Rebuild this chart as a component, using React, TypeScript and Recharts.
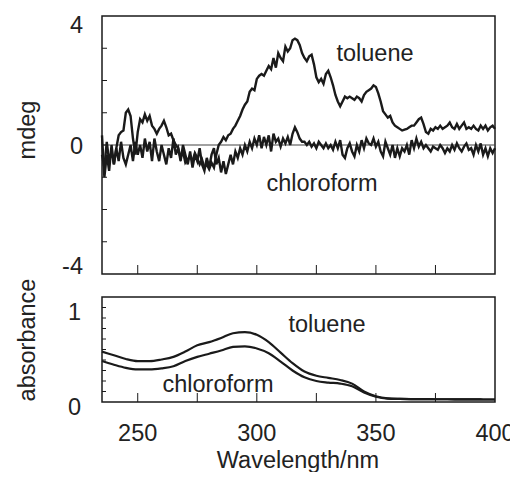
import { LineChart, Line, XAxis, YAxis, ReferenceLine, ReferenceArea } from "recharts";

// CD spectra, sampled every 1 nm from 235 to 400 nm
const CD_START = 235;
const cdToluene = [
  -0.3, -0.7, 0.1, -0.5, -0.2, -0.6, -0.1, 0.3, 0.4, 0.45,
  1.0, 1.1, 0.9, 0.2, -0.3, 0.4, 0.8, 0.7, 0.95, 0.75,
  0.9, 0.6, 0.5, 0.35, 0.5, 0.6, 0.75, 0.55, 0.3, 0.35,
  0.15, 0.0, -0.1, -0.4, -0.2, -0.55, -0.45, -0.35, -0.5, -0.25,
  -0.4, -0.6, -0.45, -0.7, -0.6, -0.75, -0.55, -0.7, -0.3, 0.0,
  0.1, 0.25, 0.15, 0.3, 0.35, 0.5, 0.6, 0.75, 0.9, 1.1,
  1.25, 1.35, 1.65, 1.75, 1.7, 2.05, 2.15, 2.2, 2.15, 2.3,
  2.45, 2.35, 2.7, 2.4, 2.85, 2.7, 2.6, 3.05, 2.9, 3.0,
  3.25, 3.3, 3.25, 3.1, 2.85, 2.7, 2.6, 2.75, 2.8, 2.5,
  2.1, 1.95, 2.05, 1.9, 2.2, 2.3, 2.1, 1.85, 1.55, 1.35,
  1.2, 1.35, 1.5, 1.45, 1.5, 1.45, 1.4, 1.5, 1.45, 1.35,
  1.55, 1.65, 1.7, 1.75, 1.85, 1.8, 1.6, 1.35, 1.05, 0.95,
  0.85, 0.9, 0.7, 0.6, 0.55, 0.5, 0.45, 0.48, 0.5, 0.55,
  0.6, 0.6, 0.7, 0.8, 0.85, 0.65, 0.4, 0.35, 0.5, 0.45,
  0.55, 0.5, 0.6, 0.5, 0.55, 0.6, 0.7, 0.55, 0.5, 0.65,
  0.5, 0.6, 0.7, 0.5, 0.55, 0.5, 0.6, 0.5, 0.45, 0.6,
  0.5, 0.6, 0.45, 0.55, 0.6, 0.5,
];
const cdChloroform = [
  0.3, -1.0, -0.3, -0.8, 0.0, -0.6, -0.1, -0.5, 0.1, -0.4,
  -0.6, -0.3, 0.0, -0.5, 0.1, -0.3, 0.0, -0.4, 0.2, -0.2,
  0.1, -0.5, 0.2, -0.2, -0.5, 0.0, -0.3, -0.6, -0.1, -0.4,
  0.2, -0.3, -0.1, -0.5, 0.0, -0.3, -0.6, -0.2, -0.7, -0.3,
  -0.5, -0.1, -0.6, -0.8, -0.4, -0.7, -0.3, -0.1, -0.6, -0.4,
  -0.85, -0.5, -0.9, -0.6, -0.3, -0.6, -0.2, -0.4, -0.1, -0.3,
  0.0, -0.2, 0.1, -0.1, 0.2, 0.0, 0.3, -0.1, 0.25, 0.0,
  0.3, -0.2, 0.35, 0.1, 0.2, -0.05, 0.2, 0.05, 0.25, 0.0,
  0.35, 0.55, 0.4, 0.2, 0.1, 0.1, 0.0, 0.1, -0.05, 0.05,
  -0.1, 0.1, 0.0, -0.1, 0.05, -0.1, 0.0, -0.15, 0.1, -0.1,
  0.15, -0.3, -0.4, -0.1, 0.05, -0.2, -0.35, 0.0, -0.2, 0.15,
  -0.1, 0.2, 0.05, 0.0, 0.2, -0.05, 0.1, -0.2, -0.35, 0.1,
  -0.1, -0.3, 0.0, -0.4, -0.1, -0.35, -0.1, -0.2, 0.0, -0.3,
  0.15, -0.1, 0.2, -0.05, 0.1, -0.1, 0.0, -0.1, -0.2, -0.05,
  -0.1, -0.15, 0.0, -0.1, -0.25, -0.1, -0.2, 0.0, -0.15, 0.05,
  -0.1, -0.2, -0.05, 0.05, -0.15, -0.1, -0.3, 0.0, -0.2, 0.05,
  -0.3, -0.1, -0.35, -0.1, -0.25, -0.1,
];

// absorbance, every 5 nm
const absWavelengths = [
  235, 240, 245, 250, 255, 260, 265, 270, 275, 280, 285, 290, 295, 300, 305, 310, 315,
  320, 325, 330, 335, 340, 345, 350, 355, 360, 365, 370, 375, 380, 385, 390, 395, 400,
];
const absToluene = [
  0.48, 0.445, 0.41, 0.39, 0.39, 0.405, 0.43, 0.48, 0.54, 0.57, 0.61, 0.655, 0.665, 0.64, 0.57, 0.47, 0.37,
  0.29, 0.25, 0.23, 0.21, 0.175, 0.1, 0.055, 0.035, 0.03, 0.028, 0.027, 0.026, 0.026, 0.025, 0.025, 0.024, 0.024,
];
const absChloroform = [
  0.39, 0.355, 0.325, 0.31, 0.31, 0.32, 0.34, 0.39, 0.43, 0.46, 0.49, 0.525, 0.53, 0.51, 0.465, 0.385, 0.3,
  0.235, 0.2, 0.185, 0.175, 0.15, 0.09, 0.05, 0.033, 0.03, 0.028, 0.027, 0.026, 0.026, 0.025, 0.025, 0.024, 0.024,
];

const cdXTicks = [250, 275, 300, 325, 350, 375];
const absXTicks = [250, 275, 300, 325, 350, 375, 400];
const xLabels = [250, 300, 350, 400];
const cdTicks = [-4, -3, -2, -1, 0, 1, 2, 3, 4];
const cdLabels = [4, 0, -4];
const absTicks = [0, 0.1, 0.2, 0.3, 0.4, 0.5, 0.6, 0.7, 0.8, 0.9, 1];
const absLabels = [1, 0];

const FONT = "'Liberation Sans', Arial, Helvetica, sans-serif";
const FS = 23.5;
const INK = "#1a1a1a";
const TXT = "#222";
const W = 518;
const H = 480;

const cdData = cdToluene.map((t, i) => ({ wl: CD_START + i, toluene: t, chloroform: cdChloroform[i] }));
const absData = absWavelengths.map((wl, i) => ({ wl, toluene: absToluene[i], chloroform: absChloroform[i] }));

const label = (x: number, y: number, s: string | number, anchor = "middle") => (
  <text x={x} y={y} textAnchor={anchor} dominantBaseline="central" fontSize={FS} fontFamily={FONT} fill={TXT}>
    {s}
  </text>
);

const CdYTick = ({ x, y, payload }: any) => {
  const v = payload.value;
  const dy = v === 4 ? 9 : v === -4 ? -8 : 1;
  return (
    <g>
      {Math.abs(v) < 4 && <line x1={x} x2={x + 5} y1={y} y2={y} stroke={INK} strokeWidth={1} />}
      {cdLabels.includes(v) && label(x - 19, y + dy, v, "end")}
    </g>
  );
};

const AbsYTick = ({ x, y, payload }: any) => {
  const v = payload.value;
  const dy = v === 1 ? 15 : 5;
  return (
    <g>
      {v > 0 && v < 1 && <line x1={x} x2={x + 4} y1={y} y2={y} stroke={INK} strokeWidth={1} />}
      {absLabels.includes(v) && label(x - 21, y + dy, v, "end")}
    </g>
  );
};

const TopXTick = ({ x, y }: any) => <line x1={x} x2={x} y1={y} y2={y - 9} stroke={INK} strokeWidth={1} />;

const BottomXTick = ({ x, y, payload }: any) => (
  <g>
    {payload.value < 400 && <line x1={x} x2={x} y1={y} y2={y - 9} stroke={INK} strokeWidth={1} />}
    {xLabels.includes(payload.value) && label(x, y + 31, payload.value)}
  </g>
);

export default function App() {
  return (
    <div style={{ position: "relative", width: W, height: H, margin: -8, background: "#fff" }}>
      <div style={{ position: "absolute", left: 0, top: 0 }}>
        <LineChart width={W} height={H} data={cdData} margin={{ top: 16, right: 23, bottom: 205, left: 101 }}>
          <XAxis
            dataKey="wl"
            type="number"
            domain={[235, 400]}
            ticks={cdXTicks}
            interval={0}
            height={1}
            tickSize={0}
            tickMargin={0}
            axisLine={false}
            tick={<TopXTick />}
          />
          <YAxis
            type="number"
            domain={[-4, 4]}
            ticks={cdTicks}
            interval={0}
            width={1}
            tickSize={0}
            tickMargin={0}
            axisLine={false}
            allowDataOverflow
            tick={<CdYTick />}
          />
          <ReferenceLine y={0} stroke="#444" strokeWidth={1.2} />
          <Line type="linear" dataKey="chloroform" stroke={INK} strokeWidth={2.4} dot={false} isAnimationActive={false} />
          <Line type="linear" dataKey="toluene" stroke={INK} strokeWidth={2.4} dot={false} isAnimationActive={false} />
          <ReferenceArea x1={235} x2={400} y1={-4} y2={4} fill="none" stroke={INK} strokeWidth={1.5} strokeOpacity={1} fillOpacity={0} />
          {label(375, 53, "toluene")}
          {label(322, 183, "chloroform")}
          <text x={35} y={130} transform="rotate(-90, 35, 130)" textAnchor="middle" fontSize={FS} fontFamily={FONT} fill={TXT}>
            mdeg
          </text>
        </LineChart>
      </div>
      <div style={{ position: "absolute", left: 0, top: 0 }}>
        <LineChart width={W} height={H} data={absData} margin={{ top: 297, right: 23, bottom: 77, left: 101 }}>
          <XAxis
            dataKey="wl"
            type="number"
            domain={[235, 400]}
            ticks={absXTicks}
            interval={0}
            height={1}
            tickSize={0}
            tickMargin={0}
            axisLine={false}
            tick={<BottomXTick />}
          />
          <YAxis
            type="number"
            domain={[0, 1]}
            ticks={absTicks}
            interval={0}
            width={1}
            tickSize={0}
            tickMargin={0}
            axisLine={false}
            tick={<AbsYTick />}
          />
          <Line type="monotone" dataKey="toluene" stroke={INK} strokeWidth={2.2} dot={false} isAnimationActive={false} />
          <Line type="monotone" dataKey="chloroform" stroke={INK} strokeWidth={2.2} dot={false} isAnimationActive={false} />
          <ReferenceArea x1={235} x2={400} y1={0} y2={1} fill="none" stroke={INK} strokeWidth={1.5} strokeOpacity={1} fillOpacity={0} />
          {label(327, 324, "toluene")}
          {label(218, 384, "chloroform")}
          {label(298, 460, "Wavelength/nm")}
          <text x={35} y={340} transform="rotate(-90, 35, 340)" textAnchor="middle" fontSize={FS} fontFamily={FONT} fill={TXT}>
            absorbance
          </text>
        </LineChart>
      </div>
    </div>
  );
}
